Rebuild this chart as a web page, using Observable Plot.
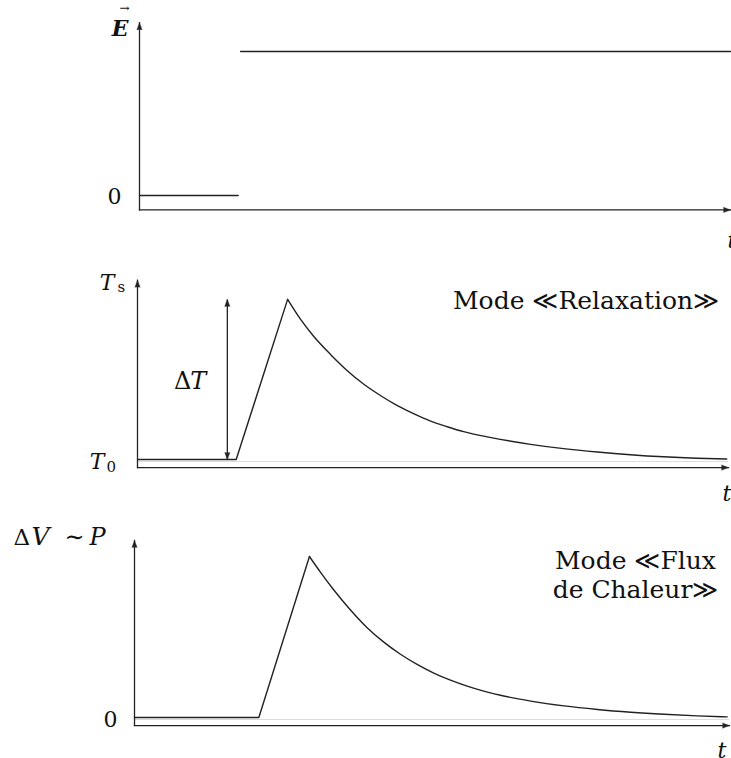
<!DOCTYPE html>
<html>
<head>
<meta charset="utf-8">
<script src="https://cdn.jsdelivr.net/npm/d3@7"></script>
<script src="https://cdn.jsdelivr.net/npm/@observablehq/plot@0.6"></script>
<style>
  html, body { margin: 0; padding: 0; background: #fff; }
  #chart { width: 731px; }
  #chart svg { display: block; }
</style>
</head>
<body>
<div id="chart"></div>
<script>
// ---------------- data ----------------
const timeDomain = [0, 10];

// Panel 1 : applied field E (step)
const fieldDomain = [-0.1, 1.2];
const fieldOffT = [0, 1.67];
const fieldOffE = [0, 0];
const fieldOnT = [1.71, 10];
const fieldOnE = [1, 1];

// Panel 2 : sample temperature, "Relaxation" mode
const relaxDomain = [-0.05, 1.12];
const relaxRiseT = [0, 1.67, 2.54];
const relaxRiseV = [0, 0, 1];
const relaxDecayT = [2.54, 2.76, 2.98, 3.27, 3.55, 3.83, 4.11, 4.39, 4.68, 4.96, 5.24, 5.52, 5.94, 6.65, 7.21, 7.78, 8.34, 8.90, 9.47, 9.97];
const relaxDecayV = [1.0, 0.875, 0.770, 0.655, 0.555, 0.470, 0.400, 0.338, 0.285, 0.240, 0.205, 0.174, 0.140, 0.095, 0.068, 0.047, 0.030, 0.017, 0.008, 0.003];
const deltaTArrowT = 1.52;

// Panel 3 : voltage ~ power, "Heat flux" mode
const fluxDomain = [-0.05, 1.1];
const fluxRiseT = [0, 2.09, 2.94];
const fluxRiseV = [0, 0, 1];
const fluxDecayT = [2.94, 3.13, 3.35, 3.63, 3.91, 4.19, 4.47, 4.75, 5.03, 5.31, 5.59, 5.87, 6.15, 6.66, 7.22, 7.78, 8.34, 8.90, 9.46, 9.96];
const fluxDecayV = [1.0, 0.900, 0.792, 0.668, 0.558, 0.468, 0.393, 0.330, 0.276, 0.232, 0.195, 0.164, 0.138, 0.102, 0.072, 0.050, 0.033, 0.020, 0.010, 0.004];

// Texts
const labelE = "E";
const labelVecArrow = "→";
const labelZero = "0";
const labelT = "T";
const labelSubS = "s";
const labelSub0 = "0";
const labelTime = "t";
const labelDelta = "Δ";
const labelV = "V";
const labelSim = "∼";
const labelP = "P";
const modeRelaxation = "Mode ≪Relaxation≫";
const modeFlux = "Mode ≪Flux\nde Chaleur≫";

// ---------------- helpers ----------------
const ink = "#222";
const serif = "'DejaVu Serif', 'Liberation Serif', serif";
const rec = (T, V) => T.map((t, i) => ({t, v: V[i]}));

function head(t, v, rotate) {
  return Plot.vector([{t, v}], {
    x: "t", y: "v", rotate, length: 7, r: 2.6, shape: "spike", anchor: "end",
    fill: ink, stroke: ink, strokeWidth: 0.4
  });
}
function axes(yDom) {
  return [
    Plot.link([0], {x1: timeDomain[0], y1: yDom[0], x2: timeDomain[0], y2: yDom[1], stroke: ink, strokeWidth: 1.3, strokeLinecap: "square"}),
    Plot.link([0], {x1: timeDomain[0], y1: yDom[0], x2: timeDomain[1], y2: yDom[0], stroke: ink, strokeWidth: 1.3, strokeLinecap: "square"}),
    head(timeDomain[0], yDom[1], 0),
    head(timeDomain[1], yDom[0], 90)
  ];
}
function label(text, x, y, opts) {
  return Plot.text([text], Object.assign({x, y, text: d => d, fill: "#111", fontFamily: serif, fontSize: 22, lineAnchor: "bottom"}, opts));
}
const lineStyle = {x: "t", y: "v", stroke: ink, strokeWidth: 1.4};

// ---------------- panel 1 ----------------
const p1 = Plot.plot({
  width: 731, height: 255,
  marginLeft: 139, marginRight: 1, marginTop: 22.2, marginBottom: 45.6,
  x: {domain: timeDomain, axis: null},
  y: {domain: fieldDomain, axis: null},
  style: {background: "#fff"},
  marks: [
    ...axes(fieldDomain),
    Plot.line(rec(fieldOffT, fieldOffE), lineStyle),
    Plot.line(rec(fieldOnT, fieldOnE), lineStyle),
    label(labelE, 0, fieldDomain[1], {textAnchor: "end", dx: -11, dy: 13, fontStyle: "italic", fontWeight: "bold"}),
    label(labelVecArrow, 0, fieldDomain[1], {textAnchor: "end", dx: -10, dy: -10.5, fontSize: 12}),
    label(labelZero, 0, 0, {textAnchor: "end", dx: -18, lineAnchor: "middle", dy: 1}),
    label(labelTime, timeDomain[1], fieldDomain[0], {textAnchor: "start", dx: -3, dy: 38, fontStyle: "italic"})
  ]
});

// ---------------- panel 2 ----------------
const p2 = Plot.plot({
  width: 731, height: 255,
  marginLeft: 137, marginRight: 3, marginTop: 24.68, marginBottom: 42.95,
  x: {domain: timeDomain, axis: null},
  y: {domain: relaxDomain, axis: null},
  style: {background: "#fff"},
  marks: [
    Plot.ruleY([0], {x1: timeDomain[0], x2: timeDomain[1], stroke: "#dcdcdc", strokeWidth: 1, dy: 2}),
    ...axes(relaxDomain),
    Plot.line(rec(relaxRiseT, relaxRiseV), lineStyle),
    Plot.line(rec(relaxDecayT, relaxDecayV), {...lineStyle, curve: "monotone-x"}),
    Plot.link([0], {x1: deltaTArrowT, y1: 0, x2: deltaTArrowT, y2: 1, stroke: ink, strokeWidth: 1.3}),
    head(deltaTArrowT, 1, 0),
    head(deltaTArrowT, 0, 180),
    label(labelDelta, deltaTArrowT, 0.5, {textAnchor: "end", dx: -36, dy: 10, fontSize: 24}),
    label(labelT, deltaTArrowT, 0.5, {textAnchor: "start", dx: -37, dy: 10, fontSize: 24, fontStyle: "italic"}),
    label(labelT, 0, relaxDomain[1], {textAnchor: "end", dx: -23, dy: 10.3, fontStyle: "italic"}),
    label(labelSubS, 0, relaxDomain[1], {textAnchor: "start", dx: -20, dy: 11.5, fontSize: 15}),
    label(labelT, 0, 0, {textAnchor: "end", dx: -33, dy: 9, fontStyle: "italic"}),
    label(labelSub0, 0, 0, {textAnchor: "start", dx: -31, dy: 12, fontSize: 15}),
    label(labelTime, timeDomain[1], relaxDomain[0], {textAnchor: "start", dx: -6, dy: 33, fontStyle: "italic"}),
    label(modeRelaxation, 7.59, 1, {textAnchor: "middle", dy: 10, fontSize: 25})
  ]
});

// ---------------- panel 3 ----------------
const p3 = Plot.plot({
  width: 731, height: 248,
  marginLeft: 134, marginRight: 2, marginTop: 29.9, marginBottom: 32.95,
  x: {domain: timeDomain, axis: null},
  y: {domain: fluxDomain, axis: null},
  style: {background: "#fff"},
  marks: [
    Plot.ruleY([0], {x1: timeDomain[0], x2: timeDomain[1], stroke: "#dcdcdc", strokeWidth: 1, dy: 2}),
    ...axes(fluxDomain),
    Plot.line(rec(fluxRiseT, fluxRiseV), lineStyle),
    Plot.line(rec(fluxDecayT, fluxDecayV), {...lineStyle, curve: "monotone-x"}),
    label(labelDelta, 0, fluxDomain[1], {textAnchor: "start", dx: -121, dy: 5, fontSize: 23}),
    label(labelV, 0, fluxDomain[1], {textAnchor: "start", dx: -103, dy: 5, fontSize: 25, fontStyle: "italic"}),
    label(labelSim, 0, fluxDomain[1], {textAnchor: "start", dx: -70, dy: 5, fontSize: 24}),
    label(labelP, 0, fluxDomain[1], {textAnchor: "start", dx: -45, dy: 5, fontSize: 24, fontStyle: "italic"}),
    label(labelZero, 0, 0, {textAnchor: "end", dx: -17, lineAnchor: "middle", dy: 2}),
    label(labelTime, timeDomain[1], fluxDomain[0], {textAnchor: "start", dx: -12, dy: 32, fontStyle: "italic"}),
    label(modeFlux, 8.42, 1, {textAnchor: "middle", dy: 41, fontSize: 25, lineHeight: 1.16})
  ]
});

const chart = document.getElementById("chart");
chart.append(p1, p2, p3);
</script>
</body>
</html>
